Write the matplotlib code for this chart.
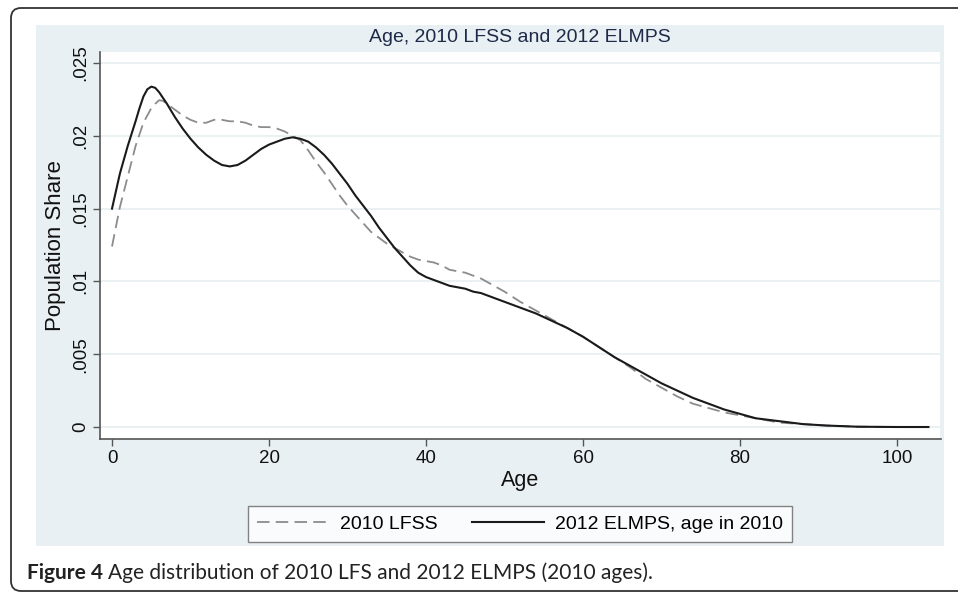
import matplotlib
matplotlib.use('Agg')
import matplotlib.pyplot as plt
from matplotlib.patches import FancyBboxPatch, Rectangle

plt.rcParams['font.family'] = ['Liberation Sans', 'DejaVu Sans']
plt.rcParams['lines.scale_dashes'] = False

# readings (age, population share)
age_lfss = [0, 1, 2, 3, 4, 5, 5.5, 6, 6.5, 7, 8, 9, 10, 11, 12, 13, 14, 15, 16, 17, 18,
            19, 20, 21, 22, 23, 24, 25, 26, 27, 28, 29, 30, 31, 32, 33, 34, 35, 36, 37,
            38, 39, 40, 41, 42, 43, 44, 45, 46, 47, 48, 49, 50, 52, 54, 56, 58, 60,
            62, 64, 66, 68, 70, 72, 74, 76, 78, 80, 82, 85, 88, 91, 95, 100, 104]
share_lfss = [0.0124, 0.0151, 0.0172, 0.0193, 0.0209, 0.0219, 0.0222, 0.02245, 0.0224,
              0.0222, 0.0218, 0.0214, 0.0211, 0.0209, 0.0209, 0.0211, 0.0211, 0.0210,
              0.0210, 0.0209, 0.0207, 0.0206, 0.0206, 0.0205, 0.0203, 0.0200, 0.0197,
              0.0190, 0.0182, 0.0175, 0.0167, 0.0159, 0.0152, 0.0146, 0.0140, 0.0134,
              0.0130, 0.0126, 0.0123, 0.0120, 0.0117, 0.0115, 0.0114, 0.0113, 0.0111,
              0.0108, 0.0107, 0.0106, 0.0104, 0.0102, 0.0099, 0.0096, 0.0093, 0.0086,
              0.0080, 0.0074, 0.0068, 0.0062, 0.0055, 0.0048, 0.0041, 0.0033, 0.0027,
              0.0021, 0.0016, 0.0013, 0.0010, 0.0008, 0.0006, 0.0003, 0.0002, 0.0001,
              0.00002, 0.0, 0.0]

age_elmps = [0, 1, 2, 3, 3.5, 4, 4.5, 5, 5.5, 6, 6.5, 7, 8, 9, 10, 11, 12, 13, 14, 15,
             16, 17, 18, 19, 20, 21, 22, 23, 24, 25, 26, 27, 28, 29, 30, 31, 32, 33, 34,
             35, 36, 37, 38, 39, 40, 41, 42, 43, 44, 45, 46, 47, 48, 49, 50, 52, 54, 56,
             58, 60, 62, 64, 66, 68, 70, 72, 74, 76, 78, 80, 82, 85, 88, 91, 95, 100, 104]
share_elmps = [0.0150, 0.0174, 0.0193, 0.0210, 0.0219, 0.0227, 0.0232, 0.02338, 0.0233,
               0.0230, 0.0226, 0.0222, 0.0213, 0.0205, 0.0198, 0.0192, 0.0187, 0.0183,
               0.0180, 0.0179, 0.0180, 0.0183, 0.0187, 0.0191, 0.0194, 0.0196, 0.0198,
               0.0199, 0.0198, 0.0196, 0.0192, 0.0187, 0.0181, 0.0174, 0.0167, 0.0159,
               0.0152, 0.0145, 0.0137, 0.0130, 0.0123, 0.0117, 0.0111, 0.0106, 0.0103,
               0.0101, 0.0099, 0.0097, 0.0096, 0.0095, 0.0093, 0.0092, 0.0090, 0.0088,
               0.0086, 0.0082, 0.0078, 0.0073, 0.0068, 0.0062, 0.0055, 0.0048, 0.0042,
               0.0036, 0.0030, 0.0025, 0.0020, 0.0016, 0.0012, 0.0009, 0.0006, 0.0004,
               0.0002, 0.0001, 0.00002, 0.0, 0.0]

x_ticks = [0, 20, 40, 60, 80, 100]
y_ticks = [0, 0.005, 0.01, 0.015, 0.02, 0.025]
y_tick_labels = ['0', '.005', '.01', '.015', '.02', '.025']

W, H = 958, 593
fig = plt.figure(figsize=(W / 100, H / 100), dpi=100)
fig.patch.set_facecolor('white')

# background layer in pixel units
bg = fig.add_axes([0, 0, 1, 1], zorder=0)
bg.set_xlim(0, W)
bg.set_ylim(H, 0)
bg.axis('off')
bg.add_patch(FancyBboxPatch((11, 8), 980, 583, boxstyle='round,pad=0,rounding_size=10',
                            facecolor='white', edgecolor='#333333', linewidth=1.3))
bg.add_patch(Rectangle((36, 25), 908, 521, facecolor='#e9f0f3', edgecolor='none'))
bg.text(520, 37, 'Age, 2010 LFSS and 2012 ELMPS', ha='center', va='center',
        fontsize=14, color='#1e2a48')

# caption: bold part followed by normal part
cap_font = ['Lato', 'DejaVu Sans']
t1 = bg.text(27, 573, 'Figure 4', ha='left', va='center', fontsize=15,
             fontweight='bold', family=cap_font, color='#222222')
fig.canvas.draw()
r = fig.canvas.get_renderer()
ext = t1.get_window_extent(r)
bg.text(ext.x1 + 5, 573, 'Age distribution of 2010 LFS and 2012 ELMPS (2010 ages).',
        ha='left', va='center', fontsize=15, family=cap_font, color='#222222')

# main plot
ax = fig.add_axes([100 / W, 1 - 439 / H, 841 / W, 387 / H], zorder=2)
ax.set_facecolor('white')
ax.plot(age_lfss, share_lfss, color='#8c8c8c', linewidth=1.3, dashes=(9, 4.5),
        label='2010 LFSS')
ax.plot(age_elmps, share_elmps, color='#1a1a1a', linewidth=1.5,
        label='2012 ELMPS, age in 2010')

ax.set_xlim(-1.53, 105.6)
ax.set_ylim(-0.000824, 0.02576)
ax.set_xticks(x_ticks)
ax.set_yticks(y_ticks)
ax.set_yticklabels(y_tick_labels, rotation=90, va='center')
ax.grid(axis='y', color='#e8f0f2', linewidth=1.3)
ax.set_axisbelow(True)
ax.tick_params(axis='both', direction='out', length=5, width=1, color='#555555',
               labelsize=13.5, labelcolor='#111111')
ax.tick_params(axis='x', pad=3)
ax.tick_params(axis='y', pad=2.5)
for s in ['left', 'bottom']:
    ax.spines[s].set_color('#555555')
    ax.spines[s].set_linewidth(1.2)
ax.spines['top'].set_visible(False)
ax.spines['right'].set_color('#e8f0f2')
ax.spines['right'].set_linewidth(1.3)

ax.set_xlabel('Age', fontsize=15.5, labelpad=2, color='#111111')
ax.set_ylabel('Population Share', fontsize=16, labelpad=5, color='#111111')

leg = ax.legend(loc='center', bbox_to_anchor=(520 / W, 1 - 524 / H),
                bbox_transform=fig.transFigure, ncol=2, frameon=True, fancybox=False,
                fontsize=14, handlelength=3.7, handletextpad=0.55, columnspacing=1.8,
                borderpad=0.45)
leg.get_frame().set_edgecolor('#666666')
leg.get_frame().set_linewidth(1.0)

fig.savefig('out.png', dpi=100)
